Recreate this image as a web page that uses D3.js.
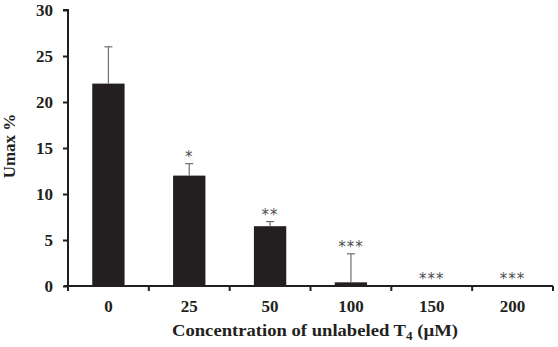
<!DOCTYPE html>
<html>
<head>
<meta charset="utf-8">
<script src="https://cdn.jsdelivr.net/npm/d3@7"></script>
<style>
  body { margin: 0; background: #fff; }
  text { font-family: "Liberation Serif", "Times New Roman", serif; font-weight: bold; fill: #231f20; }
</style>
</head>
<body>
<svg id="chart" width="558" height="347"></svg>
<script>
// data
var concentrations = ["0", "25", "50", "100", "150", "200"];
var umax = [22, 12, 6.5, 0.4, 0, 0];
var errUp = [4, 1.3, 0.5, 3.1, 0, 0];
var stars = ["", "*", "**", "***", "***", "***"];
var yTicks = [0, 5, 10, 15, 20, 25, 30];

var width = 558, height = 347;
var margin = {left: 68, right: 5, top: 10, bottom: 61};

var svg = d3.select("#chart");

var x = d3.scaleBand()
  .domain(concentrations)
  .range([margin.left, width - margin.right])
  .paddingInner(0.6)
  .paddingOuter(0.3);

var y = d3.scaleLinear()
  .domain([0, 30])
  .range([height - margin.bottom, margin.top]);

// bars
svg.selectAll("rect.bar")
  .data(umax)
  .enter()
  .append("rect")
  .attr("class", "bar")
  .attr("x", function(d, i) { return x(concentrations[i]); })
  .attr("width", x.bandwidth())
  .attr("y", function(d) { return y(d); })
  .attr("height", function(d) { return y(0) - y(d); })
  .style("fill", "#231f20");

// error bars (upper only)
var eb = svg.append("g").attr("stroke", "#6d6e70").attr("stroke-width", 1.2);
umax.forEach(function(d, i) {
  if (errUp[i] <= 0) return;
  var cx = x(concentrations[i]) + x.bandwidth() / 2;
  eb.append("line")
    .attr("x1", cx).attr("x2", cx)
    .attr("y1", y(d)).attr("y2", y(d + errUp[i]));
  eb.append("line")
    .attr("x1", cx - 4).attr("x2", cx + 4)
    .attr("y1", y(d + errUp[i])).attr("y2", y(d + errUp[i]));
});

// significance stars
svg.selectAll("text.star")
  .data(stars)
  .enter()
  .append("text")
  .attr("class", "star")
  .attr("x", function(d, i) { return x(concentrations[i]) + x.bandwidth() / 2; })
  .attr("y", function(d, i) { return y(umax[i] + errUp[i]) - 2; })
  .attr("text-anchor", "middle")
  .style("font-size", "15px")
  .style("font-weight", "normal")
  .style("font-family", "DejaVu Sans, sans-serif")
  .style("fill", "#4d4d4f")
  .style("letter-spacing", "1px")
  .text(function(d) { return d; });

// x axis: ticks at band edges
var edges = concentrations.map(function(c) { return x(c) - x.step() * x.paddingInner() / 2; });
edges.push(width - margin.right);
edges[0] = margin.left;

var xAxisG = svg.append("g").attr("stroke", "#231f20");
xAxisG.append("line")
  .attr("x1", margin.left - 4).attr("x2", width - margin.right)
  .attr("y1", y(0)).attr("y2", y(0))
  .attr("stroke-width", 2);
xAxisG.selectAll("line.tick")
  .data(edges)
  .enter()
  .append("line")
  .attr("class", "tick")
  .attr("x1", function(d) { return d; }).attr("x2", function(d) { return d; })
  .attr("y1", y(0)).attr("y2", y(0) + 5)
  .attr("stroke-width", 2);

svg.selectAll("text.xlab")
  .data(concentrations)
  .enter()
  .append("text")
  .attr("class", "xlab")
  .attr("x", function(d) { return x(d) + x.bandwidth() / 2; })
  .attr("y", 312)
  .attr("text-anchor", "middle")
  .style("font-size", "17px")
  .text(function(d) { return d; });

// y axis
var yAxis = d3.axisLeft(y).tickValues(yTicks).tickSize(5).tickPadding(10);
var yg = svg.append("g")
  .attr("transform", "translate(" + margin.left + ",0)")
  .call(yAxis);
yg.select(".domain").attr("stroke", "#231f20").attr("stroke-width", 2)
  .attr("d", "M-5," + y(30) + "H0V" + y(0));
yg.selectAll(".tick line").attr("stroke", "#231f20").attr("stroke-width", 2);
yg.selectAll(".tick text")
  .style("font-size", "17px")
  .style("font-family", "Liberation Serif, serif")
  .style("font-weight", "bold")
  .attr("fill", "#231f20");

// axis titles
svg.append("text")
  .attr("transform", "translate(15,146) rotate(-90)")
  .attr("text-anchor", "middle")
  .style("font-size", "17px")
  .text("Umax %");

var xt = svg.append("text")
  .attr("x", 315)
  .attr("y", 336)
  .attr("text-anchor", "middle")
  .attr("textLength", 286)
  .attr("lengthAdjust", "spacingAndGlyphs")
  .style("font-size", "17px");
xt.append("tspan").text("Concentration of unlabeled T");
xt.append("tspan").attr("dy", 4).style("font-size", "12px").text("4");
xt.append("tspan").attr("dy", -4).text(" (\u00b5M)");
</script>
</body>
</html>
